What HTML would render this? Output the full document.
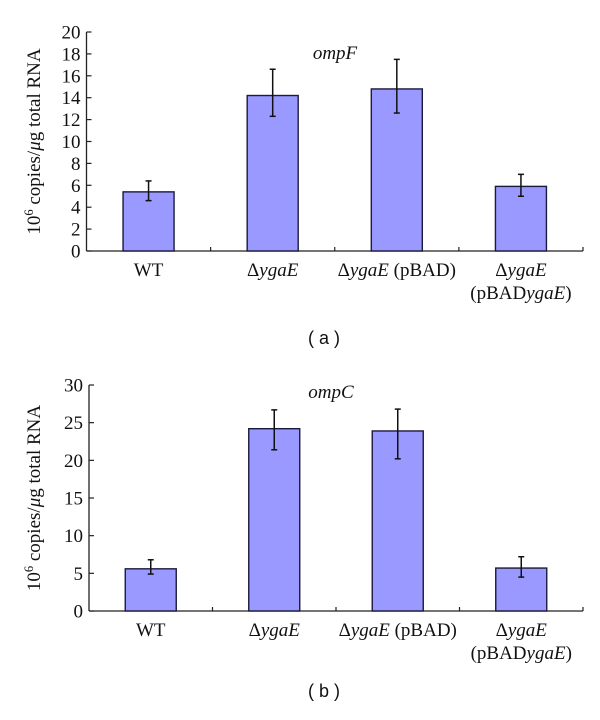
<!DOCTYPE html>
<html><head><meta charset="utf-8">
<style>
html,body{margin:0;padding:0;background:#fff;}
svg text{font-family:"Liberation Serif",serif;fill:#111;}
.cap{font-family:"Liberation Sans",sans-serif;}
</style></head>
<body>
<svg id="chart" width="600" height="715" xmlns="http://www.w3.org/2000/svg"></svg>
<script>
const categories = ["WT", "ΔygaE", "ΔygaE (pBAD)", "ΔygaE (pBADygaE)"];
const ompFValues = [5.4, 14.2, 14.8, 5.9];
const ompFLow = [4.6, 12.3, 12.6, 5.0];
const ompFHigh = [6.4, 16.6, 17.5, 7.0];
const ompFTicks = [0, 2, 4, 6, 8, 10, 12, 14, 16, 18, 20];
const ompCValues = [5.6, 24.2, 23.9, 5.7];
const ompCLow = [4.9, 21.4, 20.2, 4.5];
const ompCHigh = [6.8, 26.7, 26.8, 7.2];
const ompCTicks = [0, 5, 10, 15, 20, 25, 30];

const NS = "http://www.w3.org/2000/svg";
const svg = document.getElementById("chart");
function mk(tag, attrs, parent){
  const e = document.createElementNS(NS, tag);
  for (const k in attrs) e.setAttribute(k, attrs[k]);
  (parent||svg).appendChild(e);
  return e;
}
function catLabel(g, i, x, y){
  const t = mk("text", {x:x, y:y, "text-anchor":"middle", "font-size":"19"}, g);
  
  
  const add = (s, it, dy, xx) => {
    const sp = mk("tspan", {}, t);
    if (it) sp.setAttribute("font-style", "italic");
    if (dy !== undefined) { sp.setAttribute("dy", dy); sp.setAttribute("x", xx); }
    sp.textContent = s;
  };
  if (i === 0) add("WT");
  else if (i === 1) { add("Δ"); add("ygaE", true); }
  else if (i === 2) { add("Δ"); add("ygaE", true); add(" (pBAD)"); }
  else { add("Δ"); add("ygaE", true); add("(pBAD", false, 23, x); add("ygaE", true); add(")"); }
}
function panel(o){
  const g = mk("g", {});
  
  
  const yMax = o.ticks[o.ticks.length-1];
  const ys = v => o.y0 - (v / yMax) * (o.y0 - o.yTop);
  const cw = (o.xEnd - o.x0) / categories.length;
  const xc = i => o.x0 + cw * (i + 0.5);
  const ya = mk("line", {x1:o.x0, y1:o.yTop, x2:o.x0, y2:o.y0, stroke:"#222", "stroke-width":1.3}, g);
  
  
  const xa = mk("line", {x1:o.x0, y1:o.y0, x2:o.xEnd, y2:o.y0, stroke:"#222", "stroke-width":1.3}, g);
  
  
  o.ticks.forEach(v => {
    const y = ys(v);
    mk("line", {x1:o.x0, y1:y, x2:o.x0+5, y2:y, stroke:"#222", "stroke-width":1.2}, g);
    const t = mk("text", {x:o.x0-6, y:y+6.5, "text-anchor":"end", "font-size":"19"}, g);
    
    
    t.textContent = v;
  });
  for (let i = 1; i <= categories.length; i++) {
    const x = o.x0 + cw * i;
    mk("line", {x1:x, y1:o.y0, x2:x, y2:o.y0-4, stroke:"#222", "stroke-width":1.2}, g);
  }
  const bw = 51;
  o.vals.forEach((v, i) => {
    const r = mk("rect", {x:xc(i)-bw/2, y:ys(v), width:bw, height:o.y0-ys(v), fill:"#9999ff", stroke:"#1a1a3a", "stroke-width":1.4}, g);
    
    
    const eg = mk("g", {stroke:"#111", "stroke-width":1.5}, g);
    
    
    mk("line", {x1:xc(i), y1:ys(o.lo[i]), x2:xc(i), y2:ys(o.hi[i])}, eg);
    mk("line", {x1:xc(i)-3, y1:ys(o.lo[i]), x2:xc(i)+3, y2:ys(o.lo[i])}, eg);
    mk("line", {x1:xc(i)-3, y1:ys(o.hi[i]), x2:xc(i)+3, y2:ys(o.hi[i])}, eg);
    catLabel(g, i, xc(i), o.y0 + 25);
  });
  const ti = mk("text", {x:o.titleX, y:o.titleY, "text-anchor":"middle", "font-size":"19", "font-style":"italic"}, g);
  
  
  ti.textContent = o.title;
  const yc = (o.yTop + o.y0) / 2;
  const yt = mk("text", {x:0, y:0, "text-anchor":"middle", "font-size":"19", transform:"translate(40," + yc + ") rotate(-90)"}, g);
  
  
  const a = mk("tspan", {}, yt); a.textContent = "10";
  const b = mk("tspan", {dy:-7, "font-size":"12.5"}, yt); b.textContent = "6";
  const c = mk("tspan", {dy:7}, yt); c.textContent = " copies/";
  const d = mk("tspan", {"font-style":"italic"}, yt); d.textContent = "μ";
  const e = mk("tspan", {}, yt); e.textContent = "g total RNA";
  const cap = mk("text", {x:324, y:o.capY, "text-anchor":"middle", "font-size":"18", "class":"cap"}, g);
  
  
  cap.textContent = o.cap;
}
panel({name:"panel-a", key:"ompf", x0:86.5, xEnd:583, yTop:32, y0:251, ticks:ompFTicks, vals:ompFValues, lo:ompFLow, hi:ompFHigh, title:"ompF", titleX:335, titleY:59, capY:344, cap:"( a )"});
panel({name:"panel-b", key:"ompc", x0:89, xEnd:583, yTop:385, y0:611, ticks:ompCTicks, vals:ompCValues, lo:ompCLow, hi:ompCHigh, title:"ompC", titleX:331, titleY:398, capY:697, cap:"( b )"});
</script>
</body></html>
